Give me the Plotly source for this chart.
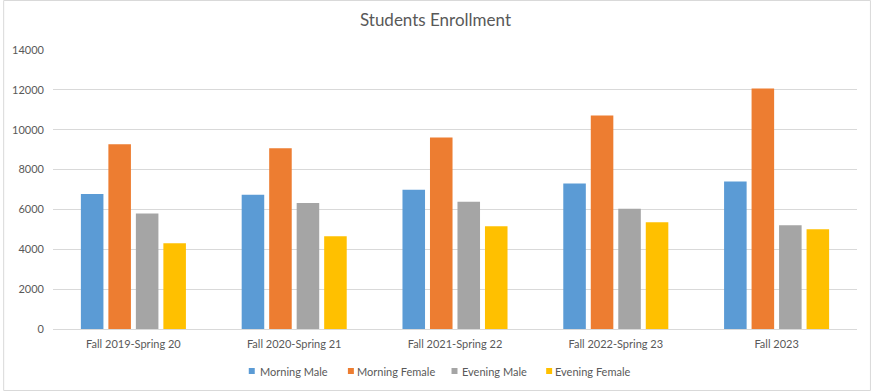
import plotly.graph_objects as go

categories = ["Fall 2019-Spring 20", "Fall 2020-Spring 21", "Fall 2021-Spring 22",
              "Fall 2022-Spring 23", "Fall 2023"]
morning_male = [6770, 6740, 6990, 7300, 7400]
morning_female = [9270, 9070, 9610, 10710, 12070]
evening_male = [5800, 6320, 6390, 6040, 5210]
evening_female = [4300, 4660, 5150, 5360, 5000]
y_ticks = [0, 2000, 4000, 6000, 8000, 10000, 12000, 14000]
series_names = ["Morning Male", "Morning Female", "Evening Male", "Evening Female"]
series_colors = ["#5b9bd5", "#ed7d31", "#a5a5a5", "#ffc000"]
series_values = [morning_male, morning_female, evening_male, evening_female]

W, H = 871, 391
ml, mr, mt, mb = 50, 14, 50, 62
pw, ph = W - ml - mr, H - mt - mb

fig = go.Figure()
for name, vals, color in zip(series_names, series_values, series_colors):
    fig.add_trace(go.Bar(name=name, x=categories, y=vals, marker_color=color,
                         marker_line_width=0, showlegend=False))

# manual legend (Excel style: small square + text)
legend_marker_px = [249.5, 349, 453, 548]
legend_text_px = [256, 353, 459, 552]
legend_y_px = 371


def px_x(px):
    return (px - ml) / pw


def px_y(py):
    return (H - mb - py) / ph


shapes = [dict(type="rect", xref="paper", yref="paper",
               x0=(-ml + 0.5) / pw, x1=1 + (mr - 0.5) / pw,
               y0=(-mb + 0.5) / ph, y1=1 + (mt - 0.5) / ph,
               line=dict(color="#d9d9d9", width=1), layer="below")]
annotations = []
for name, color, mx, tx in zip(series_names, series_colors, legend_marker_px, legend_text_px):
    shapes.append(dict(type="rect", xref="paper", yref="paper",
                       x0=px_x(mx - 3), x1=px_x(mx + 3),
                       y0=px_y(legend_y_px + 3), y1=px_y(legend_y_px - 3),
                       fillcolor=color, line=dict(width=0)))
    annotations.append(dict(text=name, xref="paper", yref="paper",
                            x=px_x(tx), y=px_y(legend_y_px), xanchor="left",
                            yanchor="middle", showarrow=False,
                            font=dict(size=11, color="#595959")))

fig.update_layout(
    width=W, height=H,
    margin=dict(l=ml, r=mr, t=mt, b=mb),
    paper_bgcolor="white", plot_bgcolor="white",
    font=dict(family="Lato, Arial, sans-serif", size=11, color="#595959"),
    title=dict(text="Students Enrollment", x=0.5, xanchor="center", y=1 - 20.5 / H,
               yanchor="middle", font=dict(size=17, color="#595959")),
    barmode="group", bargap=0.316, bargroupgap=0.18,
    showlegend=False,
    xaxis=dict(showgrid=False, showline=True, linecolor="#d9d9d9", linewidth=1,
               ticks="", ticklabelstandoff=5, tickfont=dict(size=11, color="#595959")),
    yaxis=dict(range=[0, 14000], tickvals=y_ticks, tickformat="d", showgrid=True,
               gridcolor="#d9d9d9", gridwidth=1, zeroline=False, showline=False,
               ticks="", ticklabelstandoff=8, tickfont=dict(size=11, color="#595959")),
    shapes=shapes,
    annotations=annotations,
)

fig.write_html("out.html", config={"displayModeBar": False},
               post_script="document.body.style.margin='0px';")
